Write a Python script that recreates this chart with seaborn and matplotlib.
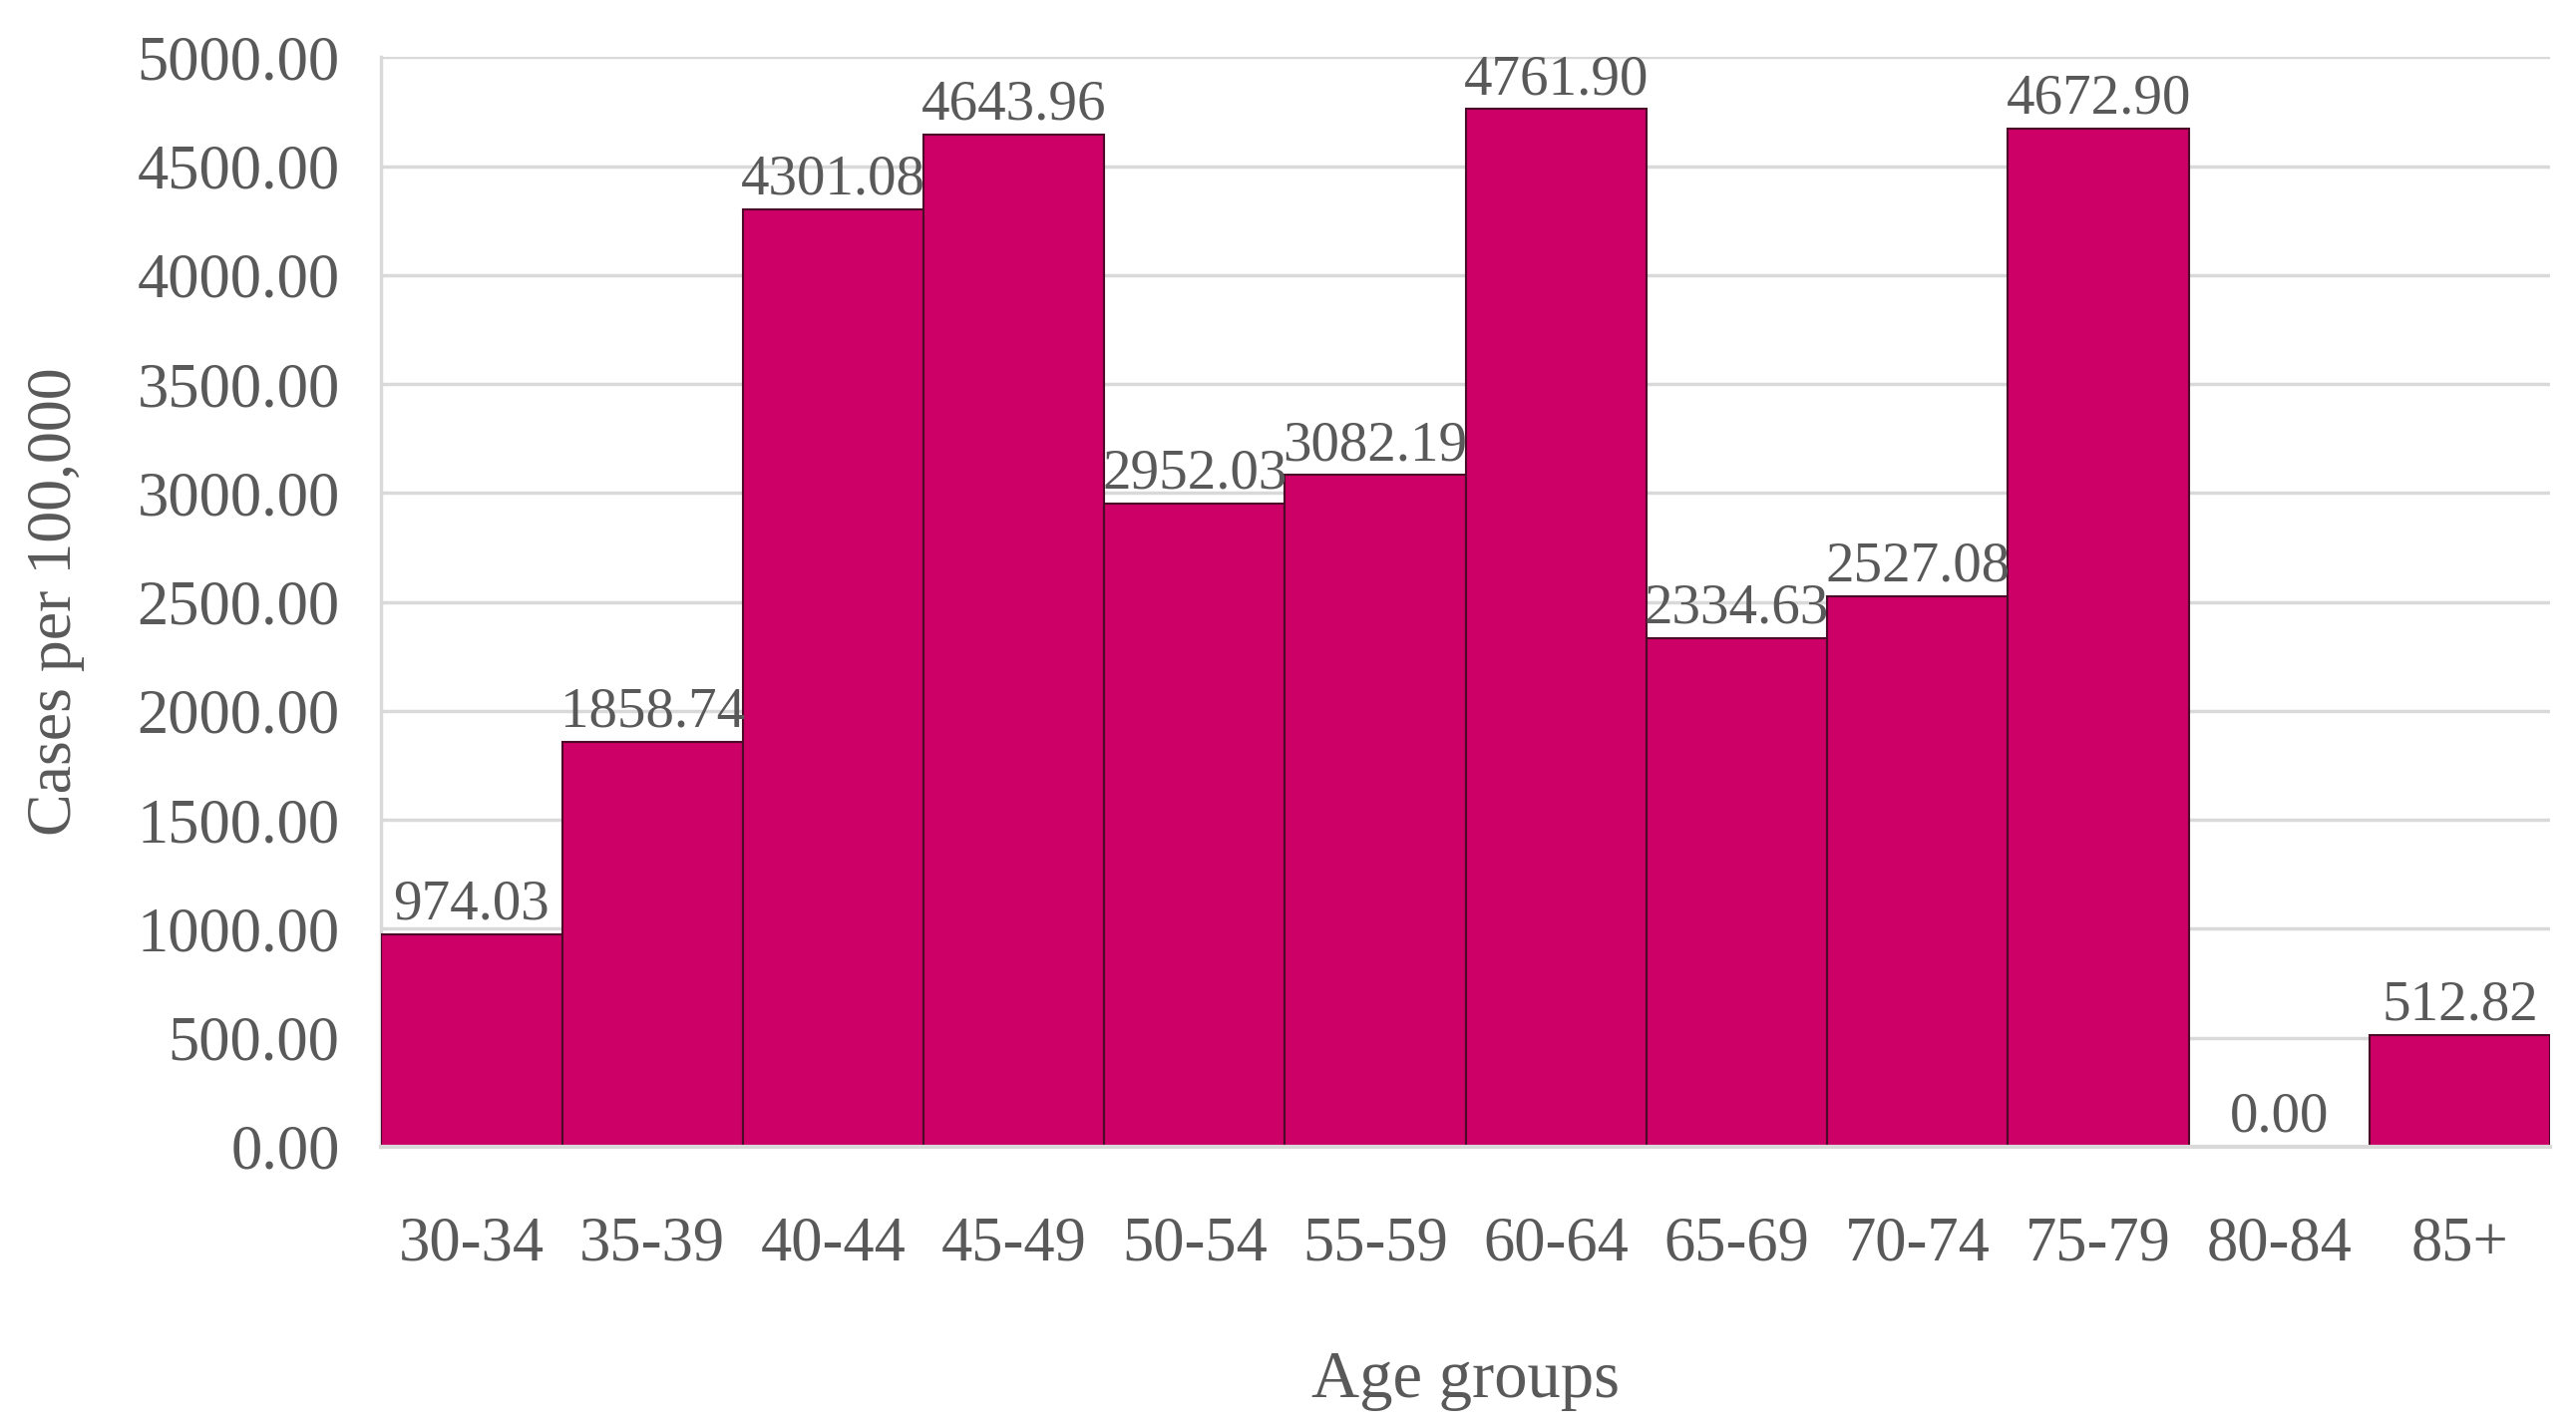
import pandas as pd
import matplotlib.pyplot as plt
import seaborn as sns

# datos
age_groups = ['30-34', '35-39', '40-44', '45-49', '50-54', '55-59',
              '60-64', '65-69', '70-74', '75-79', '80-84', '85+']
cases = [974.03, 1858.74, 4301.08, 4643.96, 2952.03, 3082.19,
         4761.90, 2334.63, 2527.08, 4672.90, 0.00, 512.82]

df = pd.DataFrame({'Age': age_groups, 'Cases': cases})

sns.set_style('white')
plt.rcParams['font.family'] = ['Liberation Serif', 'DejaVu Serif']
gris = '#595959'

fig = plt.figure(figsize=(25.83, 14.32), dpi=100)
ax = fig.add_axes([0.148, 0.197, 0.842, 0.763])

sns.barplot(data=df, x='Age', y='Cases', color='#CC0066', width=1.0,
            edgecolor='#4a0a28', linewidth=1.5, saturation=1, ax=ax, zorder=3)

# la barra en cero no muestra borde
for p, v in zip(ax.patches, cases):
    if v == 0:
        p.set_linewidth(0)

ax.set_ylim(0, 5000)
ax.set_xlim(-0.5, len(age_groups) - 0.5)
ax.set_yticks(range(0, 5001, 500))
ax.set_yticklabels([f'{v:.2f}' for v in range(0, 5001, 500)])
ax.yaxis.grid(True, color='#d9d9d9', linewidth=2.5, zorder=0)
ax.set_axisbelow(True)

for s in ['top', 'right']:
    ax.spines[s].set_visible(False)
ax.spines['left'].set_color('#d9d9d9')
ax.spines['left'].set_linewidth(2.5)
ax.spines['bottom'].set_color('#d9d9d9')
ax.spines['bottom'].set_linewidth(3)
ax.spines['bottom'].set_zorder(4)

ax.tick_params(axis='both', colors=gris, labelsize=45, length=0)
ax.tick_params(axis='x', pad=50)
ax.tick_params(axis='y', pad=30)

for i, v in enumerate(cases):
    ax.text(i, v + 15, f'{v:.2f}', ha='center', va='bottom',
            fontsize=41, color=gris, zorder=4)

ax.set_xlabel('Age groups', fontsize=48, color=gris, labelpad=55)
ax.set_ylabel('Cases per 100,000', fontsize=46, color=gris, labelpad=38)

fig.savefig('out.png', dpi=100)
